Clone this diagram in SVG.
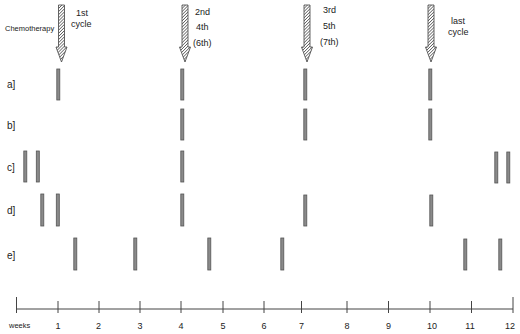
<svg xmlns="http://www.w3.org/2000/svg" width="520" height="334" viewBox="0 0 520 334">
<defs>
<pattern id="hatch" patternUnits="userSpaceOnUse" width="2.2" height="2.2" patternTransform="rotate(45)">
<rect width="2.2" height="2.2" fill="#fff"/>
<line x1="0" y1="0" x2="0" y2="2.2" stroke="#444" stroke-width="1.3"/>
</pattern>
<path id="arrow" d="M-3,0 H3 V42 H5.5 L0,57 L-5.5,42 H-3 Z"/>
</defs>
<style>
text{font-family:"Liberation Sans",Arial,sans-serif;fill:#222}
.lbl{font-size:9px}
.small{font-size:7.5px}
.row{font-size:10px}
.bar{fill:#8a8a8a;stroke:#555;stroke-width:0.8}
.arr{fill:url(#hatch);stroke:#555;stroke-width:0.9}
.axis{stroke:#444;stroke-width:1;fill:none}
</style>
<rect width="520" height="334" fill="#fff"/>
<text class="small" x="5" y="31">Chemotherapy</text>
<g id="arrow1"><use href="#arrow" class="arr" x="61.5" y="5"/><text class="lbl" x="76" y="16">1st</text><text class="lbl" x="71" y="27">cycle</text></g>
<g id="arrow2"><use href="#arrow" class="arr" x="185" y="5"/><text class="lbl" x="195" y="15">2nd</text><text class="lbl" x="196" y="30">4th</text><text class="lbl" x="193" y="46">(6th)</text></g>
<g id="arrow3"><use href="#arrow" class="arr" x="307" y="5"/><text class="lbl" x="323" y="13">3rd</text><text class="lbl" x="323" y="29">5th</text><text class="lbl" x="320" y="45">(7th)</text></g>
<g id="arrow4"><use href="#arrow" class="arr" x="431" y="5"/><text class="lbl" x="451" y="24">last</text><text class="lbl" x="448" y="35">cycle</text></g>
<g id="rowA"><text class="row" x="7" y="88">a]</text>
<rect class="bar" x="56.8" y="69" width="3" height="31"/><rect class="bar" x="180.8" y="69" width="3" height="31"/><rect class="bar" x="303.8" y="69" width="3" height="31"/><rect class="bar" x="428.8" y="69" width="3" height="31"/></g>
<g id="rowB"><text class="row" x="7" y="129">b]</text>
<rect class="bar" x="180.8" y="109" width="3" height="31"/><rect class="bar" x="303.8" y="109" width="3" height="31"/><rect class="bar" x="428.8" y="109" width="3" height="31"/></g>
<g id="rowC"><text class="row" x="7" y="171">c]</text>
<rect class="bar" x="23.8" y="151" width="3" height="31"/><rect class="bar" x="36.3" y="151" width="3" height="31"/><rect class="bar" x="180.8" y="151" width="3" height="31"/><rect class="bar" x="494.8" y="152" width="3" height="31"/><rect class="bar" x="506.8" y="152" width="3" height="31"/></g>
<g id="rowD"><text class="row" x="7" y="214">d]</text>
<rect class="bar" x="40.8" y="194" width="3" height="32"/><rect class="bar" x="56.3" y="194" width="3" height="32"/><rect class="bar" x="180.8" y="194" width="3" height="32"/><rect class="bar" x="303.8" y="195" width="3" height="31"/><rect class="bar" x="429.8" y="195" width="3" height="31"/></g>
<g id="rowE"><text class="row" x="7" y="259">e]</text>
<rect class="bar" x="73.8" y="238" width="3" height="32"/><rect class="bar" x="133.8" y="238" width="3" height="32"/><rect class="bar" x="207.8" y="238" width="3" height="32"/><rect class="bar" x="280.8" y="238" width="3" height="32"/><rect class="bar" x="463.8" y="239" width="3" height="31"/><rect class="bar" x="498.8" y="239" width="3" height="31"/></g>
<g id="axis">
<path class="axis" d="M16.5,309 H513 M16.5,297 V313 M513,297 V313 M58,301 V313 M99,301 V313 M140,301 V313 M181,301 V313 M223,301 V313 M264,301 V313 M301.5,301 V313 M347,301 V313 M388.5,301 V313 M430,301 V313 M471.5,301 V313"/>
<text class="small" x="9" y="328">weeks</text>
<g class="lbl" text-anchor="middle"><text x="58" y="329">1</text><text x="98.5" y="329">2</text><text x="140" y="329">3</text><text x="181" y="329">4</text><text x="223" y="329">5</text><text x="264" y="329">6</text><text x="301.5" y="329">7</text><text x="347" y="329">8</text><text x="388.5" y="329">9</text><text x="432" y="329">10</text><text x="470" y="329">11</text><text x="510" y="329">12</text></g>
</g>
</svg>
